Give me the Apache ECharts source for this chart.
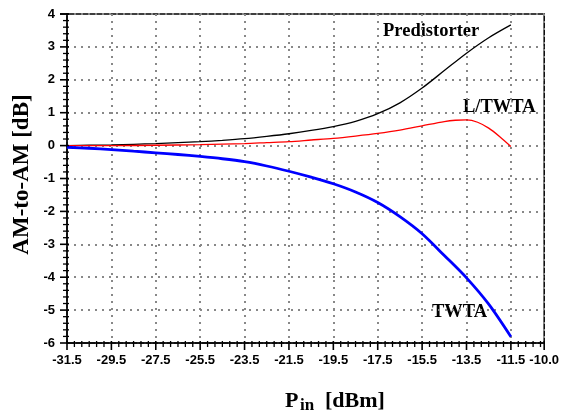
<!DOCTYPE html>
<html>
<head>
<meta charset="utf-8">
<script src="https://cdn.jsdelivr.net/npm/echarts@6/dist/echarts.min.js"></script>
<style>
html,body{margin:0;padding:0;background:#fff;}
#chart{width:562px;height:411px;}
</style>
</head>
<body>
<div id="chart"></div>
<script>
// Input power (dBm)
var pin = [-31.5,-30.5,-29.5,-28.5,-27.5,-26.5,-25.5,-24.5,-23.5,-22.5,-21.5,-20.5,-19.5,-18.5,-17.5,-16.5,-15.5,-14.5,-13.5,-12.5,-11.5];
// Predistorter AM-to-AM (dB)
var predistorter = [0.00,0.01,0.02,0.04,0.06,0.09,0.12,0.16,0.21,0.28,0.36,0.46,0.58,0.74,0.97,1.30,1.75,2.28,2.81,3.28,3.67];
// TWTA AM-to-AM (dB)
var twta = [-0.05,-0.08,-0.12,-0.17,-0.22,-0.27,-0.33,-0.40,-0.49,-0.62,-0.78,-0.96,-1.16,-1.41,-1.73,-2.16,-2.68,-3.34,-4.02,-4.82,-5.81];
// Linearized TWTA
var pinL = [-31.5,-29.5,-27.5,-25.5,-23.5,-22.5,-21.5,-20.5,-19.5,-18.5,-17.5,-16.5,-15.5,-14.5,-14.0,-13.5,-13.0,-12.5,-12.0,-11.5];
var ltwta = [0.00,0.00,0.01,0.03,0.06,0.09,0.12,0.17,0.22,0.29,0.37,0.47,0.60,0.73,0.77,0.78,0.71,0.53,0.27,-0.03];
// Axis ticks
var xMin = -31.5, xMax = -10.0, xStep = 2, xMinorPerStep = 6;
var yMin = -6, yMax = 4, yStep = 1, yMinorPerStep = 5;

function pairs(xs, ys){ return xs.map(function(x,i){ return [x, ys[i]]; }); }

function tickList(min, max, step, sub){
  var out = [], ms = step / sub, n = Math.round((max - min) / ms);
  for (var i = 0; i <= n; i++) {
    var v = min + i * ms;
    if (v > max + 1e-9) break;
    out.push({v:v, major:(i % sub === 0)});
  }
  out.push({v:max, major:true});
  return out;
}

var chart = echarts.init(document.getElementById('chart'));
var labelFont = {color:'#000', fontFamily:'"Liberation Sans", Arial, sans-serif', fontWeight:'bold', fontSize:13};
var gridDots = {color:'#888', width:2, type:[2,5]};
var serif = '"Liberation Serif", "Times New Roman", serif';

var texts = [
  {type:'text', x:383, y:31.5, style:{text:'Predistorter', font:'bold 18.5px ' + serif, fill:'#000', textAlign:'left', textVerticalAlign:'middle'}},
  {type:'text', x:463, y:107.5, style:{text:'L/TWTA', font:'bold 18.5px ' + serif, fill:'#000', textAlign:'left', textVerticalAlign:'middle'}},
  {type:'text', x:432, y:312, style:{text:'TWTA', font:'bold 18.5px ' + serif, fill:'#000', textAlign:'left', textVerticalAlign:'middle'}},
  {type:'text', x:22, y:174.5, rotation:Math.PI/2, style:{text:'AM-to-AM [dB]', font:'bold 23px ' + serif, fill:'#000', textAlign:'center', textVerticalAlign:'middle'}},
  {type:'text', x:285, y:401, style:{text:'P', font:'bold 22px ' + serif, fill:'#000', textAlign:'left', textVerticalAlign:'middle'}},
  {type:'text', x:300, y:405.5, style:{text:'in', font:'bold 17px ' + serif, fill:'#000', textAlign:'left', textVerticalAlign:'middle'}},
  {type:'text', x:325, y:401, style:{text:'[dBm]', font:'bold 22px ' + serif, fill:'#000', textAlign:'left', textVerticalAlign:'middle'}}
];

chart.setOption({
  animation:false,
  grid:{left:67, right:13, top:14, bottom:68, show:true, borderColor:'#000', borderWidth:1.5},
  xAxis:{
    type:'value', min:xMin, max:xMax, interval:xStep,
    axisLine:{show:true, onZero:false, lineStyle:{color:'#000', width:1.5}},
    axisTick:{show:false},
    axisLabel:Object.assign({margin:11, formatter:function(v){return v.toFixed(1);}}, labelFont),
    splitLine:{show:true, lineStyle:gridDots}
  },
  yAxis:{
    type:'value', min:yMin, max:yMax, interval:yStep,
    axisLine:{show:true, onZero:false, lineStyle:{color:'#000', width:1.5}},
    axisTick:{show:false},
    axisLabel:Object.assign({margin:12}, labelFont),
    splitLine:{show:true, lineStyle:gridDots}
  },
  series:[
    {type:'line', data:pairs(pin, predistorter), smooth:0.3, showSymbol:false, lineStyle:{color:'#000', width:1.3}, z:3},
    {type:'line', data:pairs(pinL, ltwta), smooth:0.3, showSymbol:false, lineStyle:{color:'#ff0000', width:1.3}, z:3},
    {type:'line', data:pairs(pin, twta), smooth:0.3, showSymbol:false, lineStyle:{color:'#0000ff', width:2.8}, z:3}
  ],
  graphic:texts
});

// Tick marks placed through the chart's own scales
var ticks = [];
tickList(xMin, xMax, xStep, xMinorPerStep).forEach(function(t){
  var p = chart.convertToPixel({gridIndex:0}, [t.v, yMin]);
  var len = t.major ? 7 : 4;
  ticks.push({type:'line', z:100, silent:true, shape:{x1:p[0], y1:p[1] - 2, x2:p[0], y2:p[1] + len}, style:{stroke:'#000', lineWidth: t.major ? 1.6 : 1.3}});
});
tickList(yMin, yMax, yStep, yMinorPerStep).forEach(function(t){
  var p = chart.convertToPixel({gridIndex:0}, [xMin, t.v]);
  var len = t.major ? 7 : 4;
  ticks.push({type:'line', z:100, silent:true, shape:{x1:p[0] + 2, y1:p[1], x2:p[0] - len, y2:p[1]}, style:{stroke:'#000', lineWidth: t.major ? 1.6 : 1.3}});
});
chart.setOption({graphic: texts.concat(ticks)});
</script>
</body>
</html>
